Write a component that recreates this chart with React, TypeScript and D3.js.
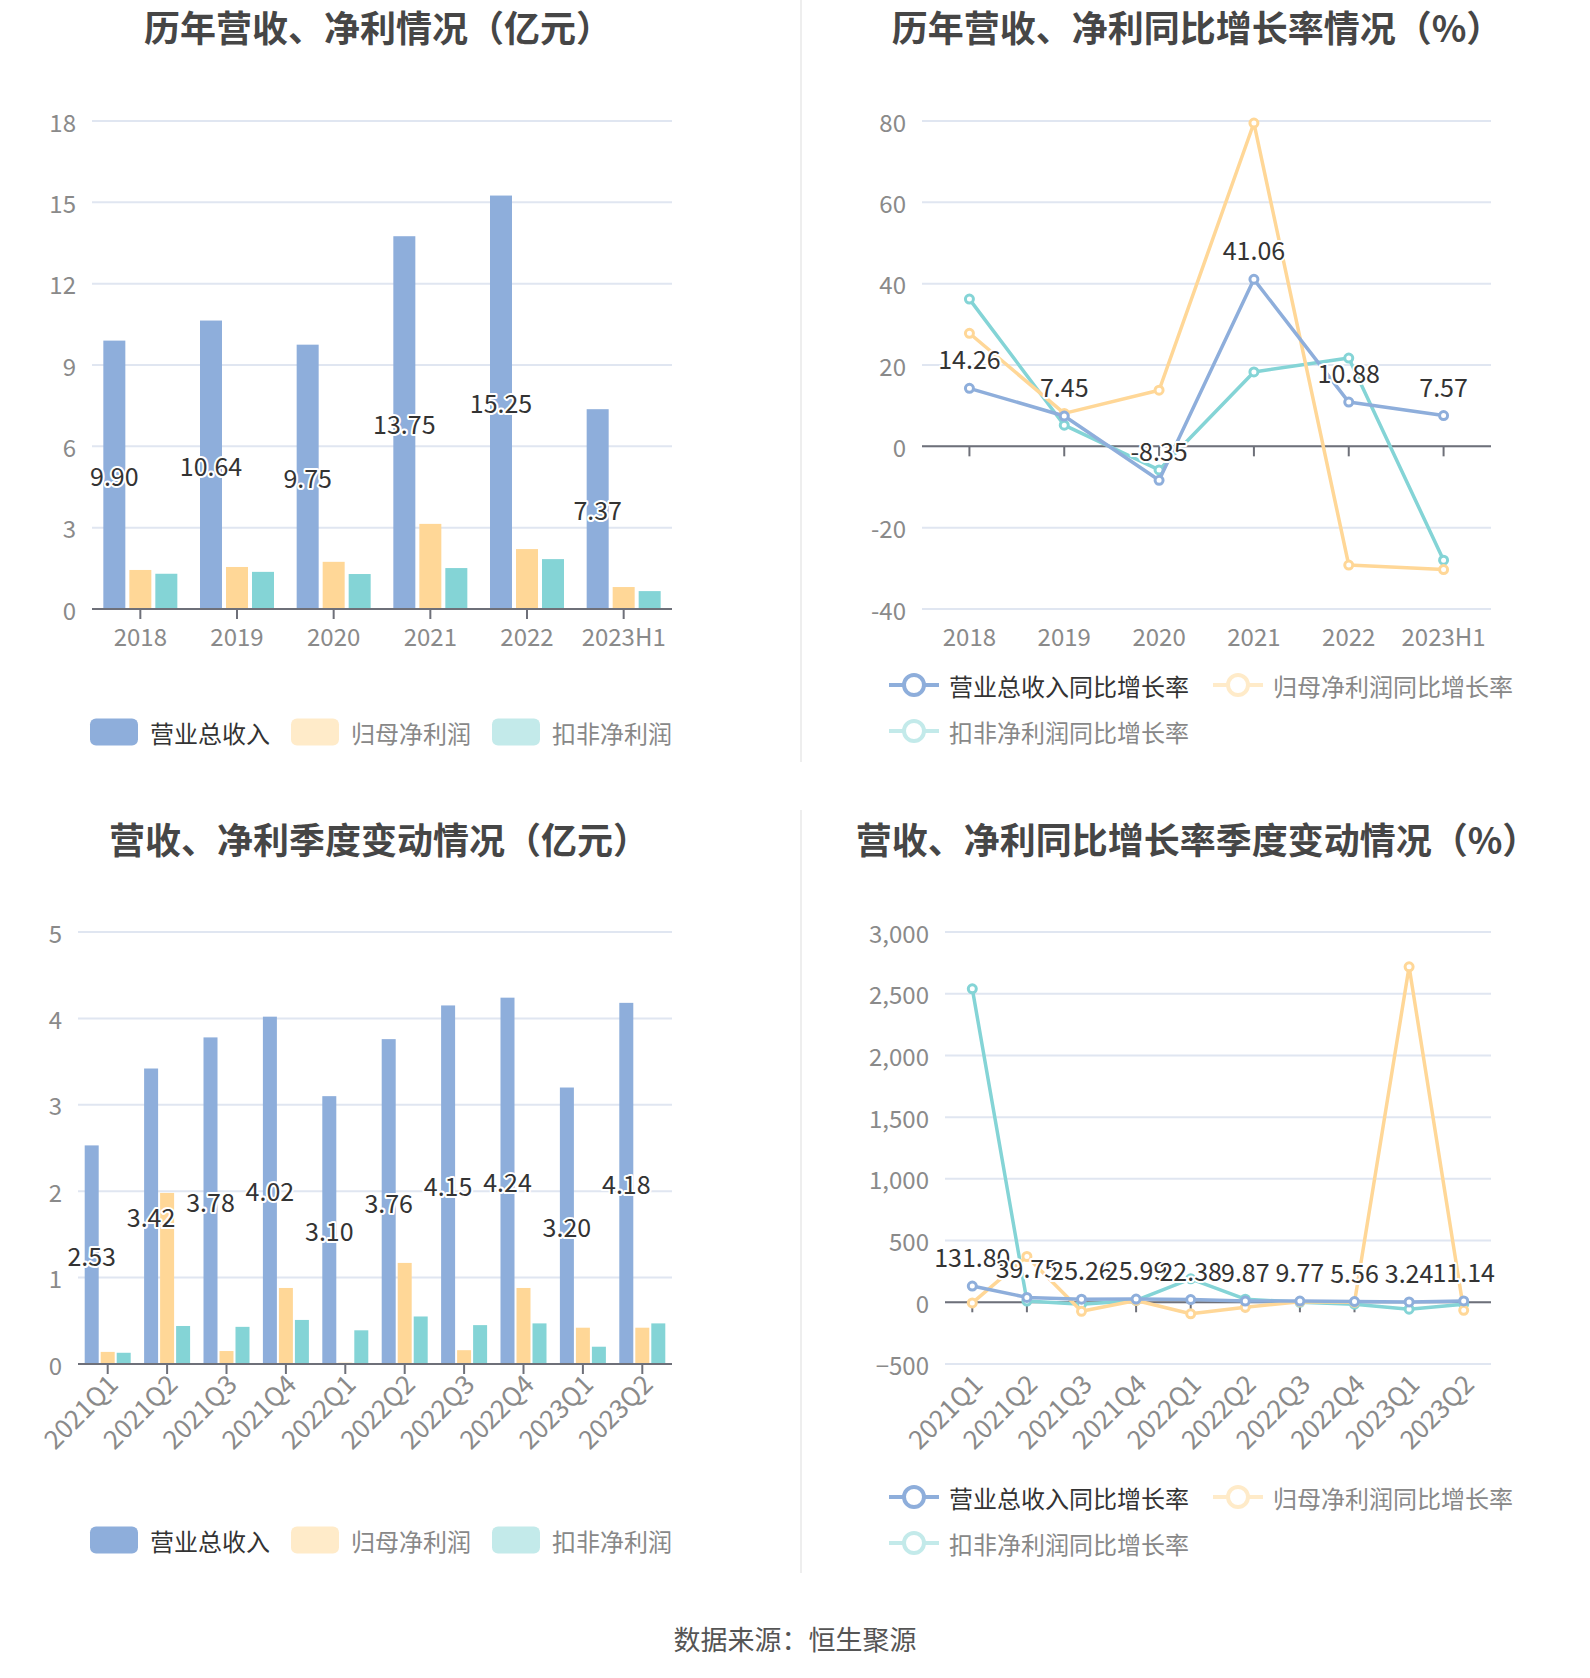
import React from 'react'
import * as d3 from 'd3'

// 年度数据
const years = ['2018', '2019', '2020', '2021', '2022', '2023H1']
const yearRevenue = [9.9, 10.64, 9.75, 13.75, 15.25, 7.37]
const yearNetProfit = [1.44, 1.55, 1.74, 3.14, 2.21, 0.81]
const yearDeducted = [1.3, 1.37, 1.29, 1.51, 1.84, 0.66]
const yearRevenueGrowth = [14.26, 7.45, -8.35, 41.06, 10.88, 7.57]
const yearProfitGrowth = [27.8, 8.1, 13.8, 79.5, -29.2, -30.3]
const yearDeductedGrowth = [36.2, 5.2, -5.8, 18.3, 21.7, -28.0]

// 季度数据
const quarters = ['2021Q1', '2021Q2', '2021Q3', '2021Q4', '2022Q1', '2022Q2', '2022Q3', '2022Q4', '2023Q1', '2023Q2']
const qRevenue = [2.53, 3.42, 3.78, 4.02, 3.1, 3.76, 4.15, 4.24, 3.2, 4.18]
const qNetProfit = [0.14, 1.98, 0.15, 0.88, 0.015, 1.17, 0.16, 0.88, 0.42, 0.42]
const qDeducted = [0.13, 0.44, 0.43, 0.51, 0.39, 0.55, 0.45, 0.47, 0.2, 0.47]
const qRevenueGrowth = [131.8, 39.75, 25.26, 25.99, 22.38, 9.87, 9.77, 5.56, 3.24, 11.14]
const qProfitGrowth = [-5, 371, -73, 15, -93, -41, 5, 0, 2718, -65]
const qDeductedGrowth = [2540, 10, -15, 15, 190, 25, 0, -15, -56, -15]

// 刻度
const yearBarTicks = [0, 3, 6, 9, 12, 15, 18]
const yearLineTicks = [-40, -20, 0, 20, 40, 60, 80]
const qBarTicks = [0, 1, 2, 3, 4, 5]
const qLineTicks = [-500, 0, 500, 1000, 1500, 2000, 2500, 3000]

const barLegend = ['营业总收入', '归母净利润', '扣非净利润']
const lineLegend = ['营业总收入同比增长率', '归母净利润同比增长率', '扣非净利润同比增长率']

const FONT = '"Noto Sans CJK SC", "Noto Sans", sans-serif'
const BLUE = '#8eaedb'
const ORANGE = '#ffd797'
const TEAL = '#84d4d6'
const BLUE_L = '#8eaedb'
const ORANGE_L = '#ffebc9'
const TEAL_L = '#c3eaea'
const GRID = '#e0e6f1'
const AXIS = '#6e7079'
const LABEL = '#8a8a8a'

interface PanelBox {
  x0: number
  x1: number
  yTop: number
  yBottom: number
}

const Title: React.FC<{ x: number; y: number; text: string }> = ({ x, y, text }) => (
  <text x={x} y={y} textAnchor="middle" dominantBaseline="central"
    fontSize={36} fontWeight={700} fill="#464646" fontFamily={FONT}>{text}</text>
)

const OutlinedLabel: React.FC<{ x: number; y: number; text: string }> = ({ x, y, text }) => (
  <text x={x} y={y} textAnchor="middle" dominantBaseline="central" fontSize={25}
    fill="#333" stroke="#fff" strokeWidth={4} paintOrder="stroke" strokeLinejoin="round"
    fontFamily={FONT}>{text}</text>
)

const XLabels: React.FC<{ cats: string[]; x: d3.ScaleBand<string>; y: number; rotate: boolean }> = ({ cats, x, y, rotate }) => (
  <g>
    {cats.map(c => {
      const cx = (x(c) ?? 0) + x.bandwidth() / 2
      return rotate ? (
        <text key={c} transform={`translate(${cx + 4},${y + 14}) rotate(-45)`} textAnchor="end"
          dominantBaseline="central" fontSize={26} fill={LABEL} fontFamily={FONT}>{c}</text>
      ) : (
        <text key={c} x={cx} y={y + 26} textAnchor="middle" dominantBaseline="central"
          fontSize={24} fill={LABEL} fontFamily={FONT}>{c}</text>
      )
    })}
  </g>
)

const BarPanel: React.FC<{
  box: PanelBox
  cats: string[]
  series: number[][]
  ticks: number[]
  barW: number
  step: number
  rotate: boolean
  title: string
  titleX: number
  titleY: number
  legendX: number
  legendY: number
}> = ({ box, cats, series, ticks, barW, step, rotate, title, titleX, titleY, legendX, legendY }) => {
  const x = d3.scaleBand<string>().domain(cats).range([box.x0, box.x1])
  const y = d3.scaleLinear().domain([ticks[0], ticks[ticks.length - 1]]).range([box.yBottom, box.yTop])
  const colors = [BLUE, ORANGE, TEAL]
  const legendColors = [BLUE_L, ORANGE_L, TEAL_L]
  return (
    <g>
      <Title x={titleX} y={titleY} text={title} />
      {ticks.map(t => (
        <g key={t}>
          <line x1={box.x0} x2={box.x1} y1={y(t)} y2={y(t)} stroke={GRID} strokeWidth={2} />
          <text x={box.x0 - 16} y={y(t)} textAnchor="end" dominantBaseline="central"
            fontSize={24} fill={LABEL} fontFamily={FONT}>{t}</text>
        </g>
      ))}
      {series.map((s, si) => s.map((v, i) => {
        const cx = (x(cats[i]) ?? 0) + x.bandwidth() / 2
        const bx = cx + (si - 1) * step - barW / 2
        return <rect key={`${si}-${i}`} x={bx} y={y(v)} width={barW} height={y(0) - y(v)} fill={colors[si]} />
      }))}
      <line x1={box.x0} x2={box.x1} y1={y(0)} y2={y(0)} stroke={AXIS} strokeWidth={2} />
      {cats.map(c => {
        const cx = (x(c) ?? 0) + x.bandwidth() / 2
        return <line key={c} x1={cx} x2={cx} y1={y(0)} y2={y(0) + 10} stroke={AXIS} strokeWidth={2} />
      })}
      {series[0].map((v, i) => {
        const cx = (x(cats[i]) ?? 0) + x.bandwidth() / 2 - step
        return <OutlinedLabel key={i} x={cx} y={(y(v) + y(0)) / 2} text={v.toFixed(2)} />
      })}
      <XLabels cats={cats} x={x} y={box.yBottom} rotate={rotate} />
      {barLegend.map((name, i) => {
        const lx = legendX + i * 201
        return (
          <g key={name}>
            <rect x={lx} y={legendY - 13.5} width={48} height={27} rx={6} fill={legendColors[i]} />
            <text x={lx + 60} y={legendY} dominantBaseline="central" fontSize={24}
              fill={i === 0 ? '#333' : '#888'} fontFamily={FONT}>{name}</text>
          </g>
        )
      })}
    </g>
  )
}

const LinePanel: React.FC<{
  box: PanelBox
  cats: string[]
  series: number[][]
  ticks: number[]
  rotate: boolean
  title: string
  titleX: number
  titleY: number
  legendX: number
  legendY: number
  fmt: (n: number) => string
}> = ({ box, cats, series, ticks, rotate, title, titleX, titleY, legendX, legendY, fmt }) => {
  const x = d3.scaleBand<string>().domain(cats).range([box.x0, box.x1])
  const y = d3.scaleLinear().domain([ticks[0], ticks[ticks.length - 1]]).range([box.yBottom, box.yTop])
  const cx = (c: string) => (x(c) ?? 0) + x.bandwidth() / 2
  const colors = [BLUE, ORANGE, TEAL]
  const legendColors = [BLUE_L, ORANGE_L, TEAL_L]
  const line = d3.line<number>().x((_, i) => cx(cats[i])).y(v => y(v))
  return (
    <g>
      <Title x={titleX} y={titleY} text={title} />
      {ticks.map(t => (
        <g key={t}>
          <line x1={box.x0} x2={box.x1} y1={y(t)} y2={y(t)} stroke={GRID} strokeWidth={2} />
          <text x={box.x0 - 16} y={y(t)} textAnchor="end" dominantBaseline="central"
            fontSize={24} fill={LABEL} fontFamily={FONT}>{fmt(t)}</text>
        </g>
      ))}
      <line x1={box.x0} x2={box.x1} y1={y(0)} y2={y(0)} stroke={AXIS} strokeWidth={2} />
      {cats.map(c => (
        <line key={c} x1={cx(c)} x2={cx(c)} y1={y(0)} y2={y(0) + 10} stroke={AXIS} strokeWidth={2} />
      ))}
      {[2, 1, 0].map(si => (
        <g key={si}>
          <path d={line(series[si]) ?? ''} fill="none" stroke={colors[si]} strokeWidth={3.5} strokeLinejoin="round" />
          {series[si].map((v, i) => (
            <circle key={i} cx={cx(cats[i])} cy={y(v)} r={4} fill="#fff" stroke={colors[si]} strokeWidth={3} />
          ))}
        </g>
      ))}
      {series[0].map((v, i) => (
        <OutlinedLabel key={i} x={cx(cats[i])} y={y(v) - 30} text={v.toFixed(2)} />
      ))}
      <XLabels cats={cats} x={x} y={box.yBottom} rotate={rotate} />
      {lineLegend.map((name, i) => {
        const lx = legendX + (i === 1 ? 324 : 0)
        const ly = legendY + (i === 2 ? 46 : 0)
        return (
          <g key={name}>
            <line x1={lx} x2={lx + 50} y1={ly} y2={ly} stroke={legendColors[i]} strokeWidth={4} />
            <circle cx={lx + 25} cy={ly} r={10} fill="#fff" stroke={legendColors[i]} strokeWidth={4} />
            <text x={lx + 60} y={ly} dominantBaseline="central" fontSize={24}
              fill={i === 0 ? '#333' : '#888'} fontFamily={FONT}>{name}</text>
          </g>
        )
      })}
    </g>
  )
}

export default function App() {
  const comma = d3.format(',')
  return (
    <svg width={1590} height={1678} style={{ position: 'absolute', left: 0, top: 0, background: '#fff' }}
      fontFamily={FONT}>
      <rect width={1590} height={1678} fill="#fff" />
      <line x1={801} x2={801} y1={0} y2={762} stroke="#eeeeee" strokeWidth={2} />
      <line x1={801} x2={801} y1={810} y2={1573} stroke="#eeeeee" strokeWidth={2} />

      <BarPanel box={{ x0: 92, x1: 672, yTop: 121, yBottom: 609 }} cats={years}
        series={[yearRevenue, yearNetProfit, yearDeducted]} ticks={yearBarTicks}
        barW={22} step={26} rotate={false} title="历年营收、净利情况（亿元）"
        titleX={378} titleY={26} legendX={90} legendY={732} />

      <LinePanel box={{ x0: 922, x1: 1491, yTop: 121, yBottom: 609 }} cats={years}
        series={[yearRevenueGrowth, yearProfitGrowth, yearDeductedGrowth]} ticks={yearLineTicks}
        rotate={false} title="历年营收、净利同比增长率情况（%）"
        titleX={1197} titleY={26} legendX={889} legendY={685} fmt={n => String(n)} />

      <BarPanel box={{ x0: 78, x1: 672, yTop: 932, yBottom: 1364 }} cats={quarters}
        series={[qRevenue, qNetProfit, qDeducted]} ticks={qBarTicks}
        barW={14} step={16} rotate={true} title="营收、净利季度变动情况（亿元）"
        titleX={379} titleY={838} legendX={90} legendY={1540} />

      <LinePanel box={{ x0: 945, x1: 1491, yTop: 932, yBottom: 1364 }} cats={quarters}
        series={[qRevenueGrowth, qProfitGrowth, qDeductedGrowth]} ticks={qLineTicks}
        rotate={true} title="营收、净利同比增长率季度变动情况（%）"
        titleX={1197} titleY={838} legendX={889} legendY={1497} fmt={n => comma(n)} />

      <text x={795} y={1638} textAnchor="middle" dominantBaseline="central" fontSize={27}
        fill="#555" fontFamily={FONT}>数据来源：恒生聚源</text>
    </svg>
  )
}
